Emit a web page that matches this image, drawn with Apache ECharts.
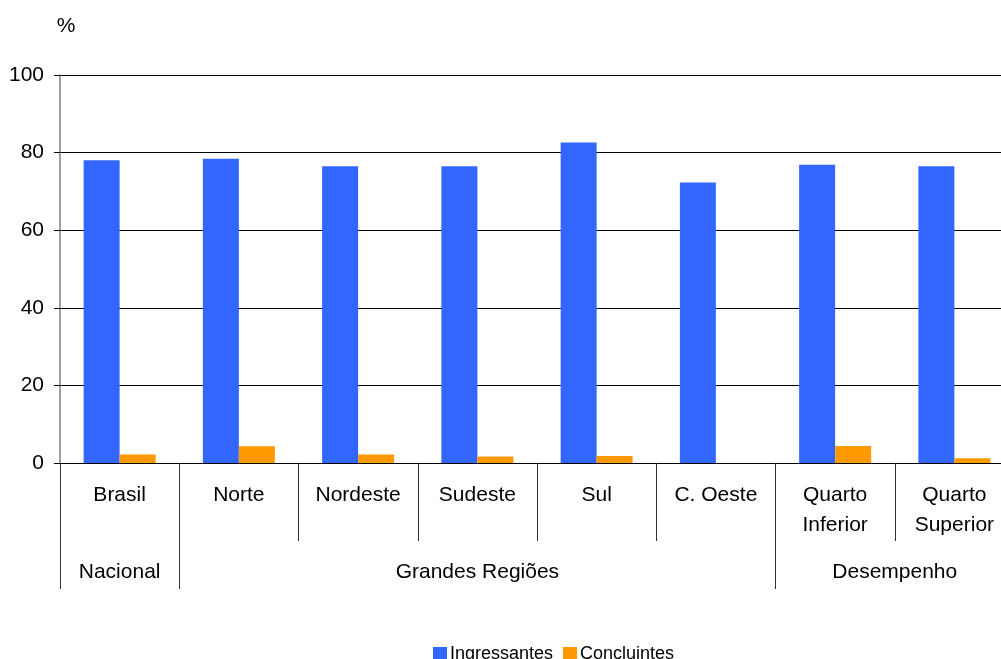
<!DOCTYPE html>
<html>
<head>
<meta charset="utf-8">
<script src="https://cdn.jsdelivr.net/npm/echarts@6/dist/echarts.min.js"></script>
<style>
* { margin: 0; padding: 0; }
body { background: #fff; }
#chart { width: 1001px; height: 659px; }
</style>
</head>
<body>
<div id="chart"></div>
<script>
// categorias
const categories = ['Brasil', 'Norte', 'Nordeste', 'Sudeste', 'Sul', 'C. Oeste', 'Quarto\nInferior', 'Quarto\nSuperior']
// séries (%)
const ingressantes = [78.0, 78.4, 76.5, 76.5, 82.6, 72.3, 76.9, 76.5]
const concluintes = [2.2, 4.3, 2.2, 1.7, 1.8, 0, 4.4, 1.2]
// grupos do eixo x (limites em índices de categoria)
const groups = ['Nacional', 'Grandes Regiões', 'Desempenho']
const groupBounds = [0, 1, 6, 8]
const yTicks = [0, 20, 40, 60, 80, 100]

const font = 'Liberation Sans, Arial, sans-serif'
const groupCenters = groups.map((g, i) => (groupBounds[i] + groupBounds[i + 1]) / 2)

const chart = echarts.init(document.getElementById('chart'))
chart.setOption({
    animation: false,
    textStyle: { fontFamily: font },
    grid: { left: 60, top: 75, width: 954, height: 388, outerBoundsMode: 'none', containLabel: false },
    legend: {
        left: 428,
        top: 640,
        itemWidth: 14,
        itemHeight: 14,
        itemGap: 10,
        icon: 'rect',
        textStyle: { fontSize: 18, color: '#000', fontFamily: font, padding: [0, 0, 0, -2] },
        data: ['Ingressantes', 'Concluintes']
    },
    xAxis: [
        {
            type: 'category',
            data: categories,
            axisLine: { lineStyle: { color: '#000', width: 1 } },
            axisTick: { show: true, length: 78, interval: 0, lineStyle: { color: '#333' } },
            axisLabel: { interval: 0, margin: 17, fontSize: 21, color: '#000', lineHeight: 30, fontFamily: font }
        },
        {
            // segunda linha: grupos
            type: 'value',
            min: groupBounds[0],
            max: groupBounds[groupBounds.length - 1],
            position: 'bottom',
            axisLine: { show: false },
            splitLine: { show: false },
            axisTick: { show: true, length: 126, customValues: groupBounds, lineStyle: { color: '#333' } },
            axisLabel: {
                margin: 99,
                fontSize: 21,
                color: '#000',
                fontFamily: font,
                customValues: groupCenters,
                formatter: v => {
                    const i = groupCenters.indexOf(v)
                    return i >= 0 ? groups[i] : ''
                }
            }
        }
    ],
    yAxis: {
        type: 'value',
        min: yTicks[0],
        max: yTicks[yTicks.length - 1],
        interval: 20,
        name: '%',
        nameLocation: 'end',
        nameGap: 38,
        nameTextStyle: { fontSize: 21, color: '#000', align: 'center', padding: [0, 0, 0, 12], fontFamily: font },
        axisLine: { show: true, lineStyle: { color: '#808080', width: 1.5 } },
        axisTick: { show: true, length: 6, lineStyle: { color: '#000' } },
        axisLabel: { fontSize: 21, color: '#000', margin: 16, fontFamily: font },
        splitLine: { lineStyle: { color: '#000', width: 1 } }
    },
    series: [
        {
            name: 'Ingressantes',
            type: 'bar',
            data: ingressantes,
            barWidth: 36,
            barGap: '0%',
            itemStyle: { color: '#3366FF' }
        },
        {
            name: 'Concluintes',
            type: 'bar',
            data: concluintes,
            barWidth: 36,
            itemStyle: { color: '#FF9900' }
        }
    ]
})
</script>
</body>
</html>
